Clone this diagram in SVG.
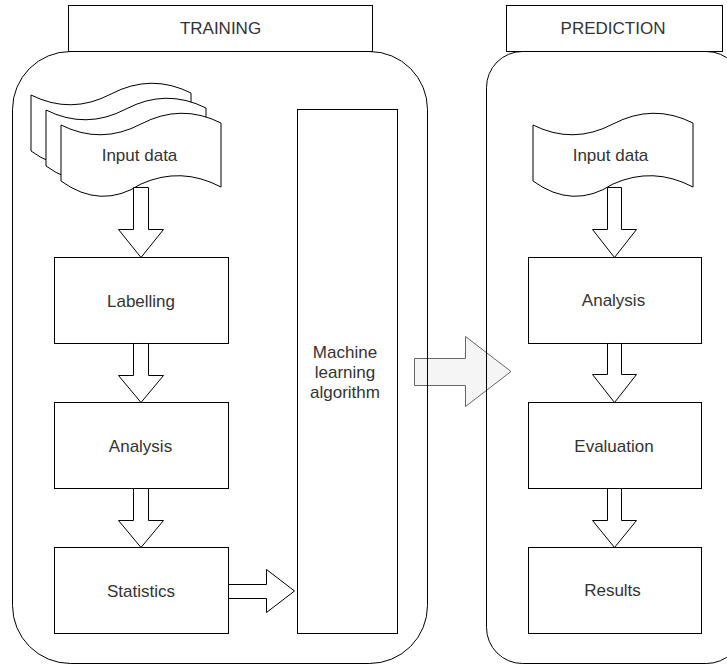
<svg xmlns="http://www.w3.org/2000/svg" width="727" height="665" viewBox="0 0 727 665">
<defs>
<style>
.box{fill:#fff;stroke:#000;stroke-width:1}
.cont{fill:none;stroke:#000;stroke-width:1}
.arr{fill:#fff;stroke:#000;stroke-width:1;stroke-linejoin:miter}
.big{fill:#f5f5f5;stroke:#666;stroke-width:1}
text{font-family:"Liberation Sans",Arial,Helvetica,sans-serif;font-size:17px;fill:#333;text-anchor:middle}
</style>
</defs>
<rect width="727" height="665" fill="#fff"/>
<g id="connectors">
<polygon class="big" points="414.5,358.5 465.5,358.5 465.5,336.5 511,371.5 465.5,406.5 465.5,385.5 414.5,385.5"/>
</g>
<g id="training-container">
<rect class="cont" x="12.5" y="51.5" width="415" height="612" rx="58" ry="58"/>
<rect class="box" x="68.5" y="5.5" width="304" height="46"/>
<text x="220.5" y="34">TRAINING</text>
</g>
<g id="prediction-container">
<rect class="cont" x="486.5" y="51.5" width="256" height="612" rx="36" ry="36"/>
<rect class="box" x="506.5" y="5.5" width="216" height="46"/>
<text x="613" y="34">PREDICTION</text>
</g>
<g id="input-data-train">
<path class="box" d="M31,95 Q71,115 111,94 Q151,73 191,93 L191,157 Q151,136 111,154 Q71,180 31,151 Z"/>
<path class="box" d="M46,110 Q86,130 126,109 Q166,88 206,108 L206,172 Q166,151 126,169 Q86,195 46,166 Z"/>
<path class="box" d="M61,125 Q101,145 141,124 Q181,103 221,123 L221,187 Q181,166 141,184 Q101,210 61,181 Z"/>
<text x="139.5" y="161">Input data</text>
</g>
<g id="labelling">
<rect class="box" x="54.5" y="257.5" width="174" height="86"/>
<text x="141" y="306.5">Labelling</text>
</g>
<g id="analysis-train">
<rect class="box" x="54.5" y="402.5" width="174" height="86"/>
<text x="140.5" y="451.5">Analysis</text>
</g>
<g id="statistics">
<rect class="box" x="54.5" y="547.5" width="174" height="86"/>
<text x="141" y="596.5">Statistics</text>
</g>
<g id="ml-algorithm">
<rect class="box" x="297.5" y="109.5" width="100" height="524"/>
<text x="345" y="358">Machine</text>
<text x="345" y="378">learning</text>
<text x="345" y="398">algorithm</text>
</g>
<g id="input-data-pred">
<path class="box" d="M533,125 Q573,145 613,124 Q653,103 693,123 L693,187 Q653,166 613,184 Q573,210 533,181 Z"/>
<text x="610.5" y="161">Input data</text>
</g>
<g id="analysis-pred">
<rect class="box" x="528.5" y="257.5" width="173" height="86"/>
<text x="613.5" y="306">Analysis</text>
</g>
<g id="evaluation">
<rect class="box" x="528.5" y="402.5" width="173" height="86"/>
<text x="614" y="451.5">Evaluation</text>
</g>
<g id="results">
<rect class="box" x="528.5" y="547.5" width="173" height="86"/>
<text x="612.5" y="595.5">Results</text>
</g>
<g id="block-arrows">
<polygon class="arr" points="133.5,187.5 148.5,187.5 148.5,229.5 163.5,229.5 141,257.5 118.5,229.5 133.5,229.5"/>
<polygon class="arr" points="133.5,343.5 148.5,343.5 148.5,375.5 163.5,375.5 141,402.5 118.5,375.5 133.5,375.5"/>
<polygon class="arr" points="133.5,488.5 148.5,488.5 148.5,520.5 163.5,520.5 141,547.5 118.5,520.5 133.5,520.5"/>
<polygon class="arr" points="228.5,584.5 266.5,584.5 266.5,569.5 294.5,591 266.5,612.5 266.5,598.5 228.5,598.5"/>
<polygon class="arr" points="607.5,187.5 621.5,187.5 621.5,229.5 636.5,229.5 614.5,257.5 592.5,229.5 607.5,229.5"/>
<polygon class="arr" points="607.5,343.5 621.5,343.5 621.5,374.5 636.5,374.5 614.5,402.5 592.5,374.5 607.5,374.5"/>
<polygon class="arr" points="607.5,488.5 621.5,488.5 621.5,520.5 636.5,520.5 614.5,547.5 592.5,520.5 607.5,520.5"/>
</g>
</svg>
